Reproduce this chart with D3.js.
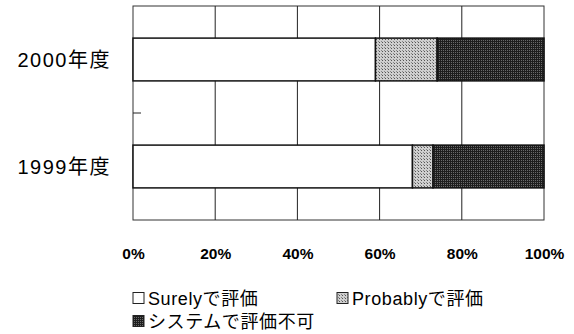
<!DOCTYPE html>
<html>
<head>
<meta charset="utf-8">
<script src="https://cdn.jsdelivr.net/npm/d3@7"></script>
<style>
  body { margin: 0; background: #fff; }
  text { font-family: "Liberation Sans", "Noto Sans CJK JP", sans-serif; fill: #000; }
</style>
</head>
<body>
<svg id="chart"></svg>
<script>
const years = ["2000年度", "1999年度"];
const seriesNames = ["Surelyで評価", "Probablyで評価", "システムで評価不可"];
const surely = [59, 68];
const probably = [15, 5];
const notPossible = [26, 27];
const tickValues = [0, 20, 40, 60, 80, 100];

const width = 574, height = 334;
const margin = {top: 6, left: 133};
const innerW = 544 - margin.left, innerH = 220 - margin.top;

const svg = d3.select("#chart").attr("width", width).attr("height", height);

const defs = svg.append("defs");
// light gray hatch for "Probably"
const p1 = defs.append("pattern").attr("id", "pat-prob")
  .attr("width", 3).attr("height", 3).attr("patternUnits", "userSpaceOnUse");
p1.append("rect").attr("width", 3).attr("height", 3).attr("fill", "#cfcfcf");
p1.append("rect").attr("width", 1).attr("height", 1).attr("fill", "#555");
p1.append("rect").attr("x", 2).attr("y", 2).attr("width", 1).attr("height", 1).attr("fill", "#888");
// dark dotted fill for "not possible"
const p2 = defs.append("pattern").attr("id", "pat-dark")
  .attr("width", 2).attr("height", 2).attr("patternUnits", "userSpaceOnUse");
p2.append("rect").attr("width", 2).attr("height", 2).attr("fill", "#1e1e1e");
p2.append("rect").attr("width", 1).attr("height", 1).attr("fill", "#6a6a6a");

const fills = ["#fff", "url(#pat-prob)", "url(#pat-dark)"];

const data = years.map((y, i) => ({year: y, values: [surely[i], probably[i], notPossible[i]]}));
const stack = d3.stack().keys([0, 1, 2]).value((d, k) => d.values[k]);
const series = stack(data);

const x = d3.scaleLinear().domain([0, 100]).range([0, innerW]);
const y = d3.scaleBand().domain(years).range([0, innerH]).paddingInner(0.6).paddingOuter(0.3);

const g = svg.append("g").attr("transform", `translate(${margin.left},${margin.top})`);

// plot frame
g.append("rect").attr("width", innerW).attr("height", innerH)
  .attr("fill", "none").attr("stroke", "#333").attr("stroke-width", 1);

// vertical gridlines
g.selectAll(".grid").data(tickValues.slice(1, -1)).enter().append("line")
  .attr("x1", d => x(d)).attr("x2", d => x(d))
  .attr("y1", 0).attr("y2", innerH)
  .attr("stroke", "#222").attr("stroke-width", 1);

// category separator tick
g.append("line").attr("x1", 0).attr("x2", 8)
  .attr("y1", innerH / 2).attr("y2", innerH / 2)
  .attr("stroke", "#222");

// stacked bars
g.selectAll(".layer").data(series).enter().append("g")
  .attr("fill", (d, i) => fills[i])
  .selectAll("rect").data(d => d).enter().append("rect")
  .attr("x", d => x(d[0]))
  .attr("width", d => x(d[1]) - x(d[0]))
  .attr("y", d => y(d.data.year))
  .attr("height", y.bandwidth())
  .attr("stroke", "#111").attr("stroke-width", 1.5);

// category labels
g.selectAll(".ylab").data(years).enter().append("text")
  .attr("x", -22).attr("y", d => y(d) + y.bandwidth() / 2)
  .attr("dy", "0.36em").attr("text-anchor", "end")
  .attr("font-size", 20).attr("letter-spacing", 1.5).text(d => d);

// x axis labels
const xAxis = d3.axisBottom(x).tickValues(tickValues).tickSize(0).tickFormat(d => d + "%");
const ax = g.append("g").attr("transform", `translate(0,${innerH + 29})`).call(xAxis);
ax.select(".domain").remove();
ax.selectAll("text").attr("font-size", 15.5).attr("font-family", "Liberation Sans, Arial, sans-serif")
  .attr("font-weight", "bold").attr("fill", "#1a1a1a").attr("dy", "0.45em");

// legend
const legendPos = [[132, 298], [336, 298], [132, 321]];
const lg = svg.selectAll(".legend").data(seriesNames).enter().append("g")
  .attr("transform", (d, i) => `translate(${legendPos[i][0]},${legendPos[i][1]})`);
lg.append("rect").attr("x", 1).attr("y", -5.5).attr("width", 11).attr("height", 11)
  .attr("fill", (d, i) => fills[i]).attr("stroke", "#222").attr("stroke-width", 1);
lg.append("text").attr("x", 16).attr("dy", "0.38em")
  .attr("font-size", 18).attr("letter-spacing", 0.6).text(d => d);
</script>
</body>
</html>
